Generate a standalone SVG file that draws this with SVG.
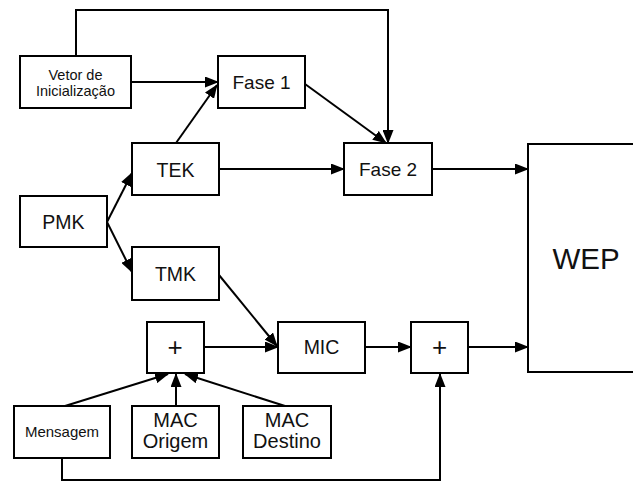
<svg xmlns="http://www.w3.org/2000/svg" width="633" height="482" viewBox="0 0 633 482">
<defs>
<marker id="ah" markerWidth="14" markerHeight="11" refX="13" refY="5.5" orient="auto" markerUnits="userSpaceOnUse">
<path d="M0,0 L14,5.5 L0,11 Z" fill="#000"/>
</marker>
<style>
.box{fill:#fff;stroke:#000;stroke-width:2}
.t{font-family:"Liberation Sans",Arial,sans-serif;fill:#111;text-anchor:middle}
.c{fill:none;stroke:#000;stroke-width:2;marker-end:url(#ah)}
</style>
</defs>
<rect width="633" height="482" fill="#fff"/>
<g id="connectors">
<path class="c" d="M76,56 V10 H388 V143"/>
<path class="c" d="M131,82 H218"/>
<path class="c" d="M176,143 L217,85"/>
<path class="c" d="M305,84 L386,143"/>
<path class="c" d="M107,222 L132,173"/>
<path class="c" d="M219,169 H344"/>
<path class="c" d="M432,169 H528"/>
<path class="c" d="M107,222 L132,272"/>
<path class="c" d="M219,275 L277,346"/>
<path class="c" d="M204,347 H278"/>
<path class="c" d="M365,347 H411"/>
<path class="c" d="M468,347 H528"/>
<path class="c" d="M65,406 L168,374"/>
<path class="c" d="M176,406 V374"/>
<path class="c" d="M285,406 L185,374"/>
<path class="c" d="M62,458 V480 H440 V374"/>
</g>
<g id="vetor"><rect class="box" x="20" y="56" width="111" height="52"/><text class="t" x="75.5" y="80" font-size="14.5">Vetor de</text><text class="t" x="75.5" y="96" font-size="14.5">Inicialização</text></g>
<g id="fase1"><rect class="box" x="218" y="56" width="87" height="52"/><text class="t" x="261.5" y="89" font-size="19">Fase 1</text></g>
<g id="tek"><rect class="box" x="132" y="143" width="87" height="52"/><text class="t" x="175.5" y="177" font-size="19.5">TEK</text></g>
<g id="pmk"><rect class="box" x="20" y="196" width="87" height="51"/><text class="t" x="63.5" y="229" font-size="19.5">PMK</text></g>
<g id="fase2"><rect class="box" x="344" y="143" width="88" height="52"/><text class="t" x="388" y="176" font-size="19">Fase 2</text></g>
<g id="wep"><rect class="box" x="528" y="144" width="110" height="228"/><text class="t" x="586" y="269" font-size="29.5">WEP</text></g>
<g id="tmk"><rect class="box" x="132" y="247" width="87" height="53"/><text class="t" x="175.5" y="281" font-size="19.5">TMK</text></g>
<g id="plus1"><rect class="box" x="147" y="322" width="57" height="51"/><text class="t" x="175" y="356" font-size="26">+</text></g>
<g id="mic"><rect class="box" x="278" y="322" width="87" height="51"/><text class="t" x="321.5" y="354" font-size="19.5">MIC</text></g>
<g id="plus2"><rect class="box" x="411" y="322" width="57" height="51"/><text class="t" x="439.5" y="356" font-size="26">+</text></g>
<g id="mensagem"><rect class="box" x="14" y="406" width="96" height="52"/><text class="t" x="62" y="437" font-size="15">Mensagem</text></g>
<g id="macorigem"><rect class="box" x="132" y="406" width="87" height="52"/><text class="t" x="175.5" y="427" font-size="20">MAC</text><text class="t" x="175.5" y="448" font-size="20">Origem</text></g>
<g id="macdestino"><rect class="box" x="243" y="406" width="88" height="52"/><text class="t" x="287" y="427" font-size="20">MAC</text><text class="t" x="287" y="448" font-size="20">Destino</text></g>
</svg>
